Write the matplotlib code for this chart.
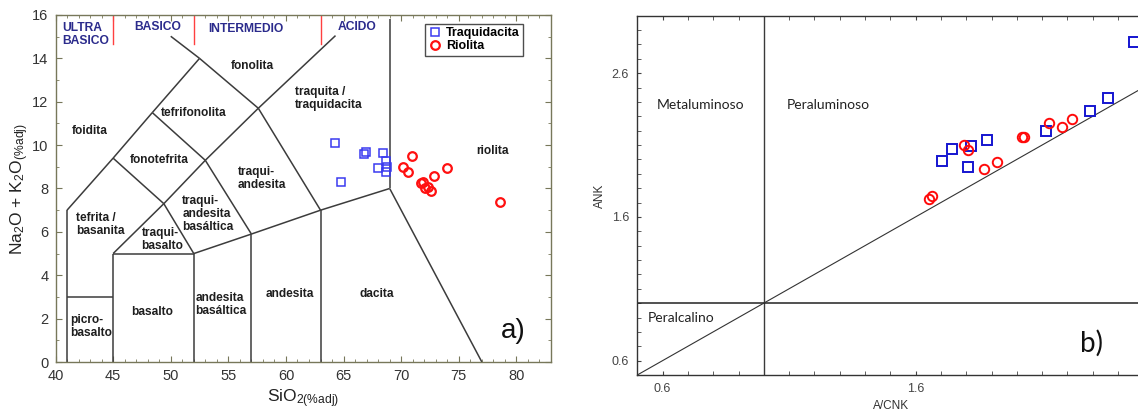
import matplotlib
matplotlib.use("Agg")
import matplotlib.pyplot as plt
from matplotlib.ticker import MultipleLocator, FixedLocator

plt.rcParams["font.family"] = ["Liberation Sans", "DejaVu Sans"]
plt.rcParams["mathtext.fontset"] = "custom"
plt.rcParams["mathtext.rm"] = "Liberation Sans"
plt.rcParams["mathtext.it"] = "Liberation Sans:italic"
plt.rcParams["mathtext.bf"] = "Liberation Sans:bold"

# ---- TAS data (SiO2, Na2O+K2O) ----
traq_sio2 = [64.26, 66.76, 66.93, 68.41, 68.72, 68.03, 68.81, 68.72, 64.81]
traq_alk = [10.09, 9.57, 9.68, 9.64, 9.28, 8.95, 9.00, 8.77, 8.28]
rio_sio2 = [70.98, 70.15, 70.63, 74.00, 72.84, 71.71, 71.85, 72.03, 72.32, 72.61, 78.61]
rio_alk = [9.49, 9.00, 8.75, 8.95, 8.58, 8.26, 8.29, 8.00, 8.08, 7.89, 7.38]

# ---- Shand index data (A/CNK, ANK) ----
traq_acnk = [2.464, 2.359, 2.288, 2.114, 1.883, 1.817, 1.742, 1.704, 1.806]
traq_ank = [2.816, 2.427, 2.339, 2.195, 2.137, 2.095, 2.074, 1.986, 1.947]
rio_acnk = [1.654, 1.666, 1.792, 1.808, 1.869, 1.920, 2.019, 2.027, 2.127, 2.178, 2.219]
rio_ank = [1.727, 1.743, 2.097, 2.067, 1.935, 1.982, 2.156, 2.156, 2.255, 2.225, 2.278]

# TAS field boundaries (Le Bas et al.)
tas_lines = [
    [(41, 0), (41, 7)], [(41, 3), (45, 3)], [(45, 0), (45, 5)], [(45, 5), (52, 5)],
    [(52, 0), (52, 5)], [(52, 5), (57, 5.9)], [(57, 0), (57, 5.9)], [(57, 5.9), (63, 7)],
    [(63, 0), (63, 7)], [(63, 7), (69, 8)], [(69, 8), (77, 0)], [(69, 8), (69, 15.8)],
    [(41, 7), (45, 9.4)], [(45, 9.4), (48.4, 11.5)], [(48.4, 11.5), (52.5, 14)],
    [(45, 9.4), (49.4, 7.3)], [(45, 5), (49.4, 7.3)], [(49.4, 7.3), (52, 5)],
    [(49.4, 7.3), (53, 9.3)], [(53, 9.3), (48.4, 11.5)], [(53, 9.3), (57, 5.9)],
    [(53, 9.3), (57.6, 11.7)], [(57.6, 11.7), (52.5, 14)], [(57.6, 11.7), (63, 7)],
    [(57.6, 11.7), (64.3, 15.05)], [(52.5, 14), (50, 15.02)],
]
silica_limits = [45, 52, 63]

field_labels = [
    ("fonolita", 57.05, 13.63, "center"),
    ("traquita /\ntraquidacita", 60.78, 12.13, "left"),
    ("tefrifonolita", 52.0, 11.49, "center"),
    ("foidita", 42.95, 10.63, "center"),
    ("fonotefrita", 48.96, 9.31, "center"),
    ("traqui-\nandesita", 55.8, 8.47, "left"),
    ("traqui-\nandesita\nbasáltica", 51.01, 6.81, "left"),
    ("tefrita /\nbasanita", 41.8, 6.33, "left"),
    ("traqui-\nbasalto", 47.47, 5.66, "left"),
    ("picro-\nbasalto", 41.3, 1.62, "left"),
    ("basalto", 48.37, 2.32, "center"),
    ("andesita\nbasáltica", 52.16, 2.65, "left"),
    ("andesita", 60.3, 3.14, "center"),
    ("dacita", 67.84, 3.14, "center"),
    ("riolita", 77.9, 9.71, "center"),
]
silica_classes = [
    ("ULTRA\nBASICO", 40.56, 15.12, "left"),
    ("BASICO", 48.9, 15.44, "center"),
    ("INTERMEDIO", 56.5, 15.37, "center"),
    ("ACIDO", 66.2, 15.44, "center"),
]

W, H = 1138, 415
fig = plt.figure(figsize=(W / 100, H / 100), dpi=100)

# ---------------- panel a: TAS ----------------
axa = fig.add_axes([55.5 / W, (H - 362) / H, (551 - 55.5) / W, (362 - 15) / H])
axa.set_xlim(40, 83)
axa.set_ylim(0, 16)
for seg in tas_lines:
    (x0, y0), (x1, y1) = seg
    axa.plot([x0, x1], [y0, y1], color="#3c3c3c", lw=1.1, solid_capstyle="butt", zorder=2)
for xs in silica_limits:
    axa.plot([xs, xs], [14.65, 16], color="#ff4040", lw=1.0, zorder=2)
for txt, x, y, ha in field_labels:
    axa.text(x, y, txt, ha=ha, va="center", fontsize=8.6, fontweight="bold",
             color="#1e1e1e", linespacing=1.1, zorder=3)
for txt, x, y, ha in silica_classes:
    axa.text(x, y, txt, ha=ha, va="center", fontsize=8.7, fontweight="bold",
             color="#2b2b8c", linespacing=1.1, zorder=3)
axa.plot(traq_sio2, traq_alk, ls="none", marker="s", ms=5.2, mfc="none",
         mec="#3a3af0", mew=1.1, label="Traquidacita", zorder=4)
axa.plot(rio_sio2, rio_alk, ls="none", marker="o", ms=6.2, mfc="none",
         mec="#ff1010", mew=1.6, label="Riolita", zorder=4)
axa.text(79.75, 1.45, "a)", ha="center", va="center", fontsize=20, color="#111111")
leg = axa.legend(loc="upper left", bbox_to_anchor=(0.746, 0.975), frameon=True,
                 fancybox=False, edgecolor="#222222", borderpad=0.3, handletextpad=0.35,
                 labelspacing=0.05, handlelength=1.0, borderaxespad=0,
                 prop={"weight": "bold", "size": 9})
leg.get_frame().set_linewidth(1.0)
axa.xaxis.set_major_locator(MultipleLocator(5))
axa.xaxis.set_minor_locator(MultipleLocator(1))
axa.yaxis.set_major_locator(MultipleLocator(2))
axa.yaxis.set_minor_locator(MultipleLocator(1))
axa.tick_params(which="both", direction="in", top=True, right=True,
                color="#77775a", labelsize=10.5, labelcolor="#333333")
axa.tick_params(which="major", length=4, pad=5)
axa.tick_params(which="minor", length=2.5)
for s in axa.spines.values():
    s.set_color("#77775a")
    s.set_linewidth(1.0)
axa.set_xlabel(r"SiO$_{2\mathrm{(\%adj)}}$", fontsize=12.5, color="#222222", labelpad=3)
axa.set_ylabel(r"Na$_2$O + K$_2$O$_{\mathrm{(\%adj)}}$", fontsize=12.5,
               color="#222222", labelpad=1)

# ---------------- panel b: Shand index ----------------
px_per_unit = 253.0
x0b, x1b = 0.5, 2.6
left_b = 637.3
axb = fig.add_axes([left_b / W, (H - 375) / H, (x1b - x0b) * px_per_unit / W, (375 - 15.7) / H])
axb.set_xlim(x0b, x1b)
axb.set_ylim(0.5, 3.0)
axb.axvline(1.0, color="#3a3a3a", lw=1.0, zorder=2)
axb.axhline(1.0, color="#222222", lw=1.1, zorder=2)
axb.plot([0.5, 3.0], [0.5, 3.0], color="#333333", lw=0.8, zorder=2)
axb.plot(traq_acnk, traq_ank, ls="none", marker="s", ms=6.8, mfc="none",
         mec="#1515d0", mew=1.4, zorder=4, clip_on=False)
axb.plot(rio_acnk, rio_ank, ls="none", marker="o", ms=6.8, mfc="none",
         mec="#ff0a0a", mew=1.4, zorder=4)
label_font = ["Lato", "DejaVu Sans"]
axb.text(0.75, 2.38, "Metaluminoso", ha="center", va="center", fontsize=10,
         family=label_font, color="#222222")
axb.text(1.255, 2.38, "Peraluminoso", ha="center", va="center", fontsize=10,
         family=label_font, color="#222222")
axb.text(0.54, 0.90, "Peralcalino", ha="left", va="center", fontsize=10,
         family=label_font, color="#222222")
axb.text(2.297, 0.718, "b)", ha="center", va="center", fontsize=20,
         family=label_font, color="#111111")
axb.xaxis.set_major_locator(FixedLocator([0.6, 1.6]))
axb.xaxis.set_minor_locator(MultipleLocator(0.1))
axb.yaxis.set_major_locator(FixedLocator([0.6, 1.6, 2.6]))
axb.yaxis.set_minor_locator(MultipleLocator(0.1))
axb.tick_params(which="both", direction="in", top=True, right=False,
                color="#444444", labelsize=9, labelcolor="#444444")
axb.tick_params(which="major", length=3, pad=6)
axb.tick_params(which="minor", length=3)
axb.spines["right"].set_visible(False)
for k in ("left", "top", "bottom"):
    axb.spines[k].set_color("#333333")
    axb.spines[k].set_linewidth(1.0)
axb.set_xlabel("A/CNK", fontsize=8.5, color="#333333")
axb.xaxis.set_label_coords((891 - left_b) / ((x1b - x0b) * px_per_unit), -0.07)
axb.set_ylabel("ANK", fontsize=8.5, color="#333333", labelpad=4)

fig.savefig("out.png", dpi=100)
